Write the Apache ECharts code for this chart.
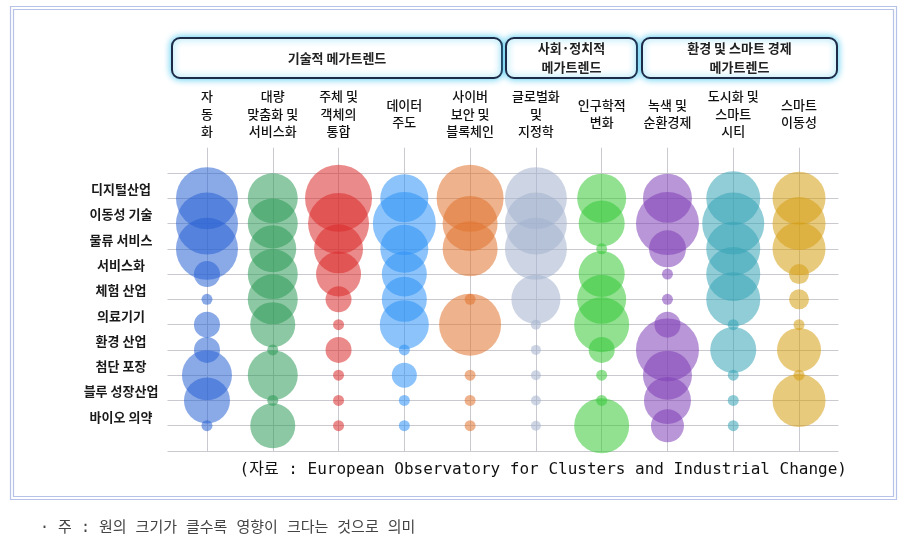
<!DOCTYPE html>
<html><head><meta charset="utf-8">
<script src="https://cdn.jsdelivr.net/npm/echarts@6/dist/echarts.min.js"></script>
<style>html,body{margin:0;padding:0;background:#fff}#c{width:912px;height:540px}</style>
</head><body><div id="c"></div>
<script>
// ---- data ----
const rowNames = ['디지털산업','이동성 기술','물류 서비스','서비스화','체험 산업','의료기기','환경 산업','첨단 포장','블루 성장산업','바이오 의약'];
const columnNames = ['자\n동\n화','대량\n맞춤화 및\n서비스화','주체 및\n객체의\n통합','데이터\n주도','사이버\n보안 및\n블록체인','글로벌화\n및\n지정학','인구학적\n변화','녹색 및\n순환경제','도시화 및\n스마트\n시티','스마트\n이동성'];
const groupNames = ['기술적 메가트렌드','사회·정치적\n메가트렌드','환경 및 스마트 경제\n메가트렌드'];
// impact (circle size) per industry row, 0 = no circle
const automation   = [62,62,62,26,11,26,26,50,46,11];
const massCustom   = [50,50,47,50,50,45,11,50,11,45];
const integration  = [67,61,49,45,26,11,26,11,11,11];
const dataDriven   = [48,63,48,45,45,49,11,25,11,11];
const cyberSec     = [67,55,55,0,11,62,0,11,11,11];
const globalization= [62,62,62,0,49,10,10,10,10,10];
const demography   = [49,46,11,46,49,55,26,11,11,55];
const greenEcon    = [49,63,37,11,11,26,63,49,47,33];
const urbanSmart   = [54,62,54,54,54,11,46,11,11,11];
const smartMobility= [53,53,53,20,20,11,44,11,53,0];
const sourceText = '(자료 : European Observatory for Clusters and Industrial Change)';
const noteText = '· 주 : 원의 크기가 클수록 영향이 크다는 것으로 의미';

const allValues = [automation, massCustom, integration, dataDriven, cyberSec, globalization, demography, greenEcon, urbanSmart, smartMobility];
const colors = ['#2a62d4','#2e9a58','#db2a2a','#2e92f6','#e0732e','#a4b3ce','#37c837','#8040b6','#37a4b6','#d59f13'];

const FONT = '"Noto Sans CJK KR", "Noto Sans", sans-serif';
const MONO = '"DejaVu Sans Mono", "Noto Sans CJK KR", monospace';
const chart = echarts.init(document.getElementById('c'), null, {renderer:'canvas'});

const gridCol = '#c9c9cf';
const ySplitColors = ['rgba(0,0,0,0)'].concat(new Array(12).fill(gridCol));
const xSplitColors = ['rgba(0,0,0,0)','rgba(0,0,0,0)','rgba(0,0,0,0)',gridCol,'rgba(0,0,0,0)'];

function boxGraphic(x, w, text){
  return {
    type:'group', left: x, top: 37,
    children:[
      {type:'rect', shape:{x:0,y:0,width:w,height:40,r:8},
       style:{fill:'#fff', stroke:'#1d2a48', lineWidth:2, shadowBlur:7, shadowColor:'rgba(70,200,240,0.95)'}},
      {type:'text', x:w/2, y:20, style:{text:text, fill:'#222', font:'bold 13px '+FONT, align:'center', verticalAlign:'middle', lineHeight:19}}
    ]
  };
}

chart.setOption({
  animation:false,
  backgroundColor:'#fff',
  grid:{left:167.5, right:73.5, top:147.7, bottom:89, containLabel:false},
  xAxis:{
    type:'value', position:'top', min:-0.6, max:9.6, interval:0.2,
    axisLine:{show:false}, axisTick:{show:false},
    splitLine:{show:true, lineStyle:{color:xSplitColors, width:1}},
    axisLabel:{
      margin:34, verticalAlign:'middle', lineHeight:17.5, fontSize:13, fontWeight:500, color:'#111', fontFamily:FONT,
      showMinLabel:true, showMaxLabel:true,
      formatter:v=>{const r=Math.round(v); return (Math.abs(v-r)<1e-6 && r>=0 && r<columnNames.length)?columnNames[r]:'';}
    }
  },
  yAxis:{
    type:'value', inverse:true, min:-1, max:11, interval:1,
    axisLine:{show:false}, axisTick:{show:false},
    splitLine:{show:true, lineStyle:{color:ySplitColors, width:1}},
    axisLabel:{
      margin:46.5, align:'center', verticalAlign:'bottom', lineHeight:18,
      fontSize:13, fontWeight:'bold', color:'#1a1a1a', fontFamily:FONT,
      formatter:v=>{const r=Math.round(v); return (r>=1 && r<=rowNames.length)?rowNames[r-1]:'';}
    }
  },
  series: allValues.map((vals,c)=>({
    type:'scatter', name:columnNames[c], silent:true,
    data: vals.map((v,r)=> v>0 ? [c, r+1, v] : null).filter(d=>d),
    symbolSize: d=>d[2],
    itemStyle:{color:colors[c], opacity:0.55},
    emphasis:{disabled:true}
  })),
  graphic:[
    {type:'rect', shape:{x:10.5,y:6.5,width:886,height:493}, style:{fill:'none', stroke:'#b6c2e8', lineWidth:1.2}, silent:true},
    {type:'rect', shape:{x:13.5,y:9.5,width:880,height:487}, style:{fill:'none', stroke:'#b6c2e8', lineWidth:1.2}, silent:true},
    boxGraphic(171, 330, groupNames[0]),
    boxGraphic(505, 131, groupNames[1]),
    boxGraphic(641, 195, groupNames[2]),
    {type:'text', right: 912-847, top: 462, style:{text:sourceText, fill:'#111', font:'16px '+MONO}},
    {type:'text', left: 40, top: 521, style:{text:noteText, fill:'#444', font:'15px '+MONO}}
  ]
});
</script></body></html>
